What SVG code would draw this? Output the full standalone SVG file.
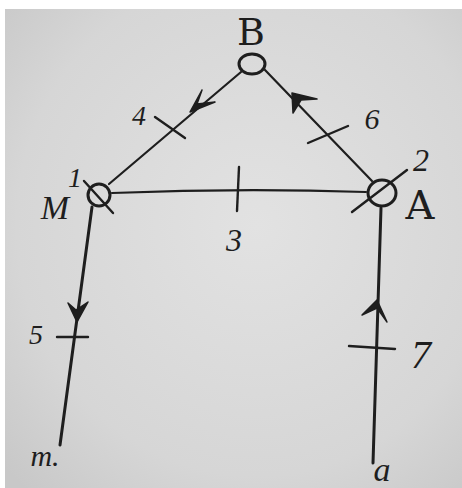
<svg xmlns="http://www.w3.org/2000/svg" width="462" height="488" viewBox="0 0 462 488">
  <defs>
    <radialGradient id="paper" cx="0.55" cy="0.45" r="0.75">
      <stop offset="0" stop-color="#e2e2e2"/>
      <stop offset="0.7" stop-color="#d6d6d6"/>
      <stop offset="1" stop-color="#c8c8c8"/>
    </radialGradient>
  </defs>
  <style>
    .ln { stroke: #1e1e1e; stroke-width: 2.2; fill: none; stroke-linecap: round; }
    .thick { stroke-width: 3; }
    .tick { stroke: #1e1e1e; stroke-width: 2.4; stroke-linecap: round; }
    .node { stroke: #1e1e1e; stroke-width: 3; fill: none; }
    .arr { fill: #1e1e1e; stroke: #1e1e1e; stroke-width: 1.5; stroke-linejoin: round; }
    .lbl { font-family: "DejaVu Serif", "Liberation Serif", serif; fill: #1e1e1e; text-anchor: middle; }
    .hand { font-family: "Liberation Serif", serif; font-style: italic; fill: #1e1e1e; text-anchor: middle; }
  </style>
  <rect x="0" y="0" width="462" height="488" fill="#ffffff"/>
  <rect x="5" y="9" width="457" height="479" fill="url(#paper)"/>

  <g id="connectors">
    <!-- B -> M (4) -->
    <line class="ln" x1="241" y1="72" x2="109" y2="184"/>
    <path class="arr" d="M190,112 L202,90 L197,104 L215,102 Z"/>
    <line class="tick" x1="155" y1="117" x2="185" y2="138"/>
    <text class="hand" x="139" y="125" font-size="28">4</text>
    <!-- A -> B (6) -->
    <line class="ln" x1="372" y1="181" x2="265" y2="70"/>
    <path class="arr" d="M292,93 L317,99 L301,100 L293,113 Z"/>
    <line class="tick" x1="308" y1="143" x2="348" y2="126"/>
    <text class="hand" x="372" y="129" font-size="30">6</text>
    <!-- M - A (3) -->
    <path class="ln" d="M112,193 Q240,188 366,192"/>
    <line class="tick" x1="239" y1="167" x2="237" y2="211"/>
    <text class="hand" x="234" y="251" font-size="32">3</text>
    <!-- M -> m (5) -->
    <line class="ln thick" x1="92" y1="207" x2="60" y2="445"/>
    <path class="arr" d="M77,322 L68,303 L76,310 L88,302 Z"/>
    <line class="tick" x1="57" y1="337" x2="88" y2="337"/>
    <text class="hand" x="36" y="344" font-size="28">5</text>
    <!-- a -> A (7) -->
    <line class="ln thick" x1="381" y1="208" x2="373" y2="463"/>
    <path class="arr" d="M377,300 L362,315 L377,308 L387,322 Z"/>
    <line class="tick" x1="349" y1="346" x2="395" y2="349"/>
    <text class="hand" x="421" y="368" font-size="40">7</text>
  </g>

  <g id="node-B">
    <ellipse class="node" cx="252" cy="64" rx="13" ry="10"/>
    <text class="lbl" x="251" y="45" font-size="38">B</text>
  </g>
  <g id="node-M">
    <circle class="node" cx="99" cy="195" r="11"/>
    <line class="tick" x1="84" y1="181" x2="113" y2="213" stroke-width="3"/>
    <text class="hand" x="75" y="187" font-size="28">1</text>
    <text class="hand" x="55" y="219" font-size="34">M</text>
  </g>
  <g id="node-A">
    <ellipse class="node" cx="382" cy="193" rx="14" ry="13"/>
    <line class="tick" x1="352" y1="212" x2="407" y2="170" stroke-width="3"/>
    <text class="hand" x="421" y="171" font-size="32">2</text>
    <text class="lbl" x="420" y="219" font-size="40">A</text>
  </g>
  <g id="node-m">
    <text class="hand" x="45" y="466" font-size="30">m.</text>
  </g>
  <g id="node-a">
    <text class="hand" x="382" y="481" font-size="34">a</text>
  </g>
</svg>
